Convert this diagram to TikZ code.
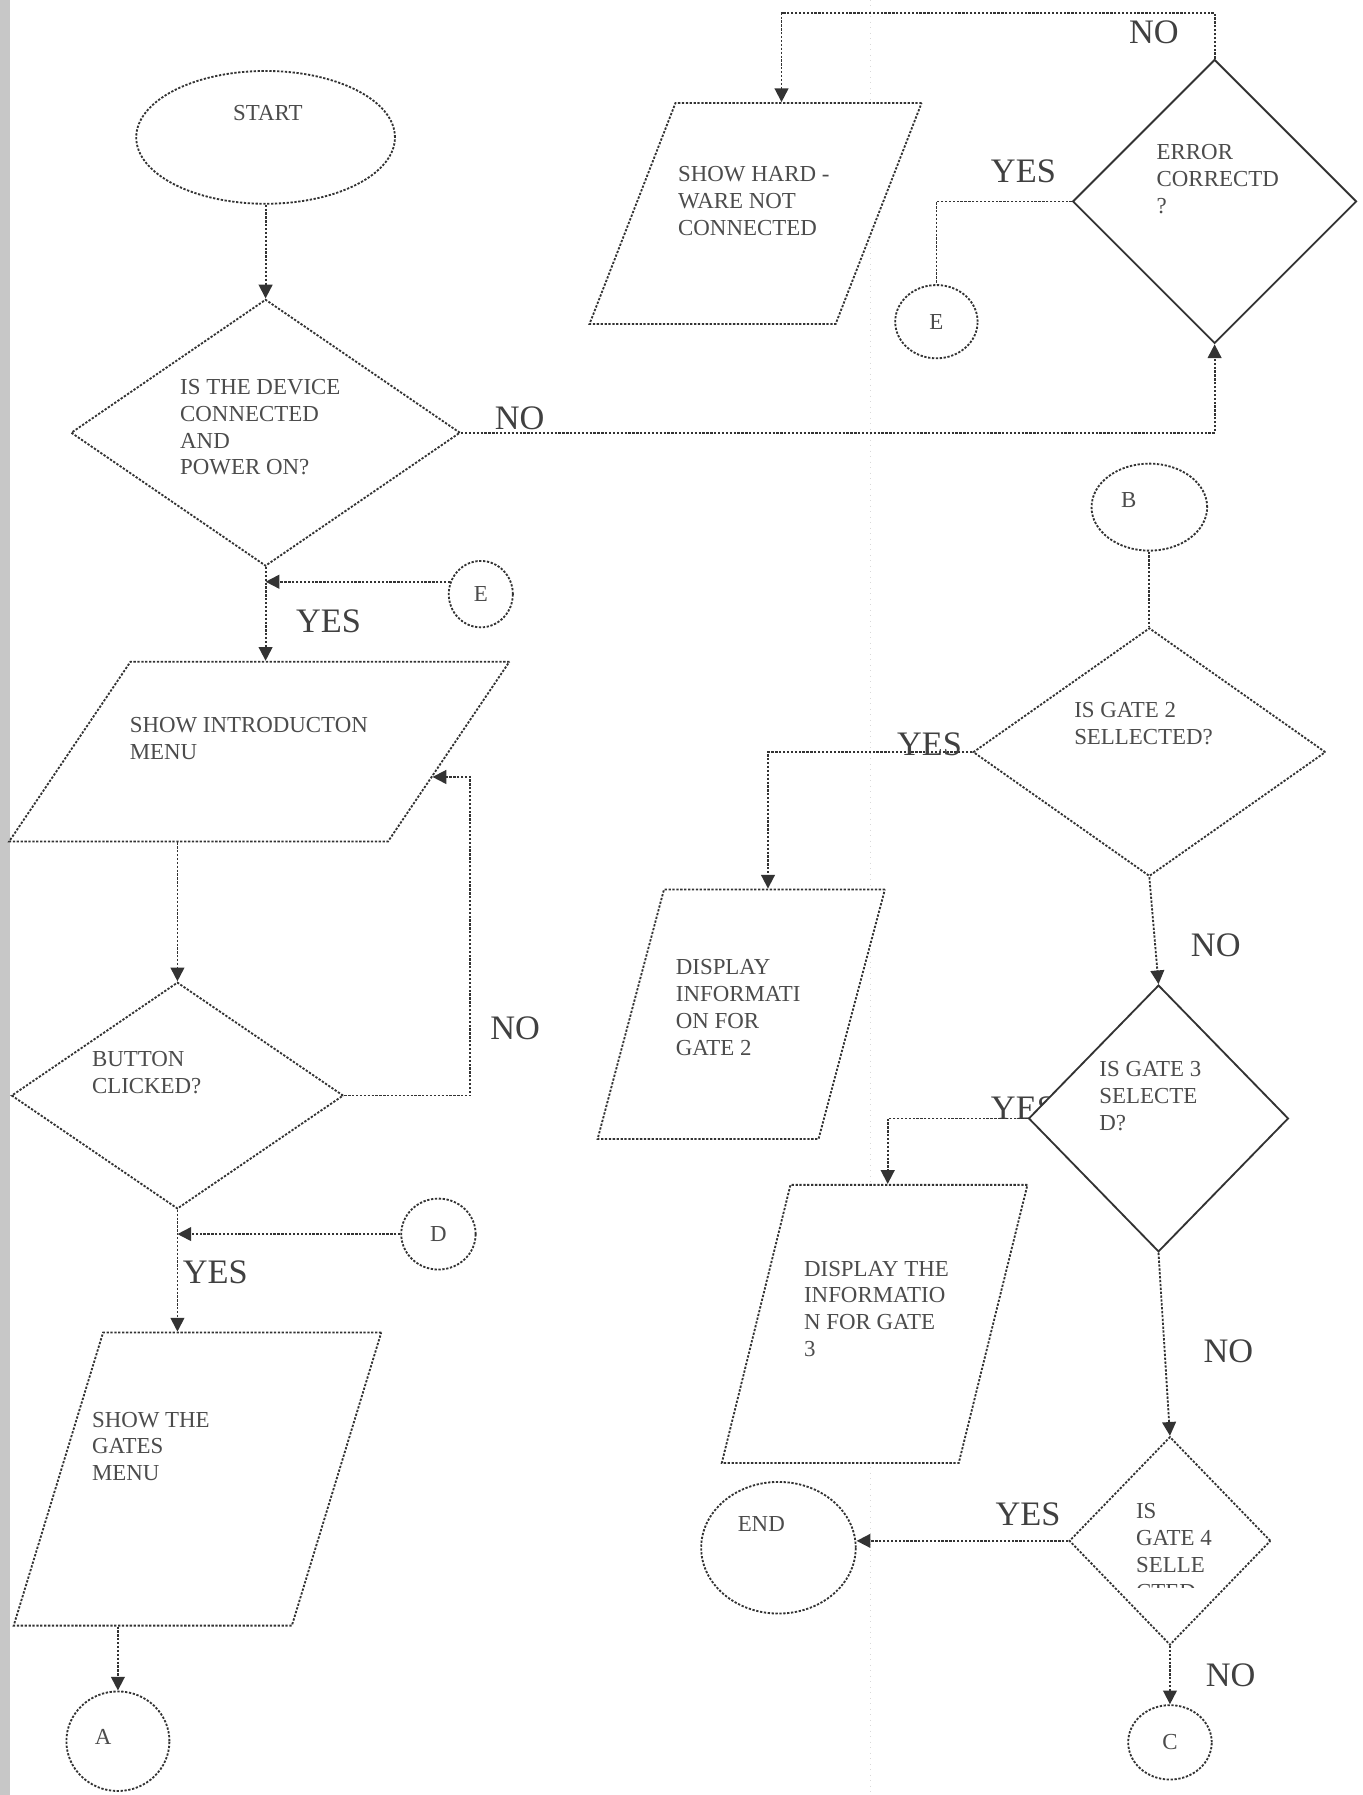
\documentclass[tikz,border=0pt]{standalone}
\usepackage{fontspec}
\setmainfont{Liberation Serif}
\usetikzlibrary{shapes.geometric, arrows.meta, calc}

\begin{document}
\begin{tikzpicture}[x=0.5pt, y=-0.5pt, >={Triangle[width=6pt,length=6pt]},
    line/.style={draw=black!80, dash pattern=on 1pt off 0.7pt, line width=0.8pt},
    flow/.style={line, ->},
    term/.style={ellipse, line, fill=white, inner sep=0pt,
      font=\fontsize{10}{12}\selectfont, text=black!70},
    decision/.style={diamond, line, fill=white, inner sep=0pt},
    iobox/.style={rectangle, transform shape, line, fill=white, inner sep=0pt},
    txt/.style={anchor=north west, align=left, inner sep=0pt,
      font=\fontsize{10}{11.7}\selectfont, text=black!70},
    ans/.style={inner sep=0pt, font=\fontsize{15}{16}\selectfont, text=black!75},
  ]
    \useasboundingbox (0,0) rectangle (1190,1568);
    \fill[black!22] (0,0) rectangle (9,1568);
    \draw[black!15, dotted] (760,0) -- (760,1568);

    % label hidden partly behind gate 3
    \node[ans] (yes5) at (894,968) {YES};

    % left column
    \node[term, minimum width=113pt, minimum height=58pt] (start) at (232,120) {};
    \node[decision, minimum width=170pt, minimum height=116.5pt] (dev) at (232,378) {};
    \node[term, minimum width=28pt, minimum height=29pt] (eL) at (420,519) {E};
    \begin{scope}[shift={(226.5,656.5)}, xslant=0.675]
      \node[iobox, minimum width=165.5pt, minimum height=78.5pt] (intro) {};
    \end{scope}
    \node[decision, minimum width=145pt, minimum height=99pt] (button) at (155,957) {};
    \node[term, minimum width=32.5pt, minimum height=31pt] (D) at (383,1078) {D};
    \begin{scope}[shift={(172.5,1292)}, xslant=0.305]
      \node[iobox, minimum width=121.5pt, minimum height=128pt] (gates) {};
    \end{scope}
    \node[term, minimum width=45pt, minimum height=43.5pt] (A) at (103,1521) {};

    % right column
    \begin{scope}[shift={(660,186.5)}, xslant=0.389]
      \node[iobox, minimum width=107.5pt, minimum height=96.5pt] (hw) {};
    \end{scope}
    \node[decision, solid, minimum width=124pt, minimum height=124pt] (err) at (1061,176) {};
    \node[term, minimum width=36pt, minimum height=32pt] (eR) at (818,281) {E};
    \node[term, minimum width=50.5pt, minimum height=38pt] (B) at (1004,443) {};
    \node[decision, minimum width=154pt, minimum height=108.5pt] (g2) at (1004,657) {};
    \begin{scope}[shift={(647.5,886)}, xslant=0.266]
      \node[iobox, minimum width=96.5pt, minimum height=109pt] (info2) {};
    \end{scope}
    \node[decision, solid, minimum width=113.5pt, minimum height=116.5pt] (g3) at (1012,977) {};
    \begin{scope}[shift={(764,1156.5)}, xslant=0.247]
      \node[iobox, minimum width=103.5pt, minimum height=121.5pt] (info3) {};
    \end{scope}
    \node[decision, minimum width=88pt, minimum height=91pt] (g4) at (1022,1346) {};
    \node[term, minimum width=67.5pt, minimum height=57.5pt] (END) at (680,1352) {};
    \node[term, minimum width=36.5pt, minimum height=32.5pt] (C) at (1022,1522) {C};

    % texts
    \node[txt, anchor=center] (tstart) at (234,99) {START};
    \node[txt] (tdev) at (157,331) {IS THE DEVICE\\CONNECTED\\AND\\POWER ON?};
    \node[txt] (tintro) at (113,626) {SHOW INTRODUCTON\\MENU};
    \node[txt] (tbutton) at (80,918) {BUTTON\\CLICKED?};
    \node[txt] (tgates) at (80,1233) {SHOW THE\\GATES\\MENU};
    \node[txt, anchor=center] (tA) at (90,1517) {A};
    \node[txt] (thw) at (592,145) {SHOW HARD -\\WARE NOT\\CONNECTED};
    \node[txt] (terr) at (1010,126) {ERROR\\CORRECTD\\?};
    \node[txt, anchor=center] (tB) at (986,437) {B};
    \node[txt] (tg2) at (938,613) {IS GATE 2\\SELLECTED?};
    \node[txt] (tinfo2) at (590,838) {DISPLAY\\INFORMATI\\ON FOR\\GATE 2};
    \node[txt] (tg3) at (960,927) {IS GATE 3\\SELECTE\\D?};
    \node[txt] (tinfo3) at (702,1101) {DISPLAY THE\\INFORMATIO\\N FOR GATE\\3};
    \begin{scope}
      \clip (980,1300) rectangle (1075,1387);
      \node[txt] (tg4) at (992,1313) {IS\\GATE 4\\SELLE\\CTED};
    \end{scope}
    \node[txt, anchor=center] (tend) at (665,1331) {END};

    % connectors
    \draw[flow] (start) -- (dev);
    \draw[flow] (dev.east) -| (err.south);
    \draw[flow] (dev.south) -- (dev.south |- intro.north);
    \draw[flow] (eL.158) -- (eL.158 -| dev.south);
    \draw[flow] (button.north |- intro.south) -- (button.north);
    \draw[flow] (button.east) -- ++(110,0)
      |- ($(intro.south east)!0.36!(intro.north east)$);
    \draw[flow] (button.south) -- (button.south |- gates.north);
    \draw[flow] (D.west) -- (D.west -| button.south);
    \draw[flow] (A.north |- gates.south) -- (A.north);
    \draw[flow] (err.north) -- ++(0,-40)
      -| ($(hw.north west)!0.43!(hw.north east)$);
    \draw[line] (err.west) -| (eR.north);
    \draw[line] (B) -- (g2);
    \draw[flow] (g2.west) -| ($(info2.north west)!0.47!(info2.north east)$);
    \draw[flow] (g2.south) -- (g3.north);
    \draw[flow] (g3.west) -| ($(info3.north west)!0.41!(info3.north east)$);
    \draw[flow] (g3.south) -- (g4.north);
    \draw[flow] (g4.west) -- (g4.west -| END.east);
    \draw[flow] (g4.south) -- (C.north);

    % answers
    \node[ans] (no1) at (454,365) {NO};
    \node[ans] (yes1) at (287,543) {YES};
    \node[ans] (no2) at (450,898) {NO};
    \node[ans] (yes2) at (188,1111) {YES};
    \node[ans] (no3) at (1008,28) {NO};
    \node[ans] (yes3) at (894,150) {YES};
    \node[ans] (yes4) at (812,650) {YES};
    \node[ans] (no4) at (1062,826) {NO};
    \node[ans] (no5) at (1073,1180) {NO};
    \node[ans] (yes6) at (898,1323) {YES};
    \node[ans] (no6) at (1075,1463) {NO};
  \end{tikzpicture}
\end{document}
